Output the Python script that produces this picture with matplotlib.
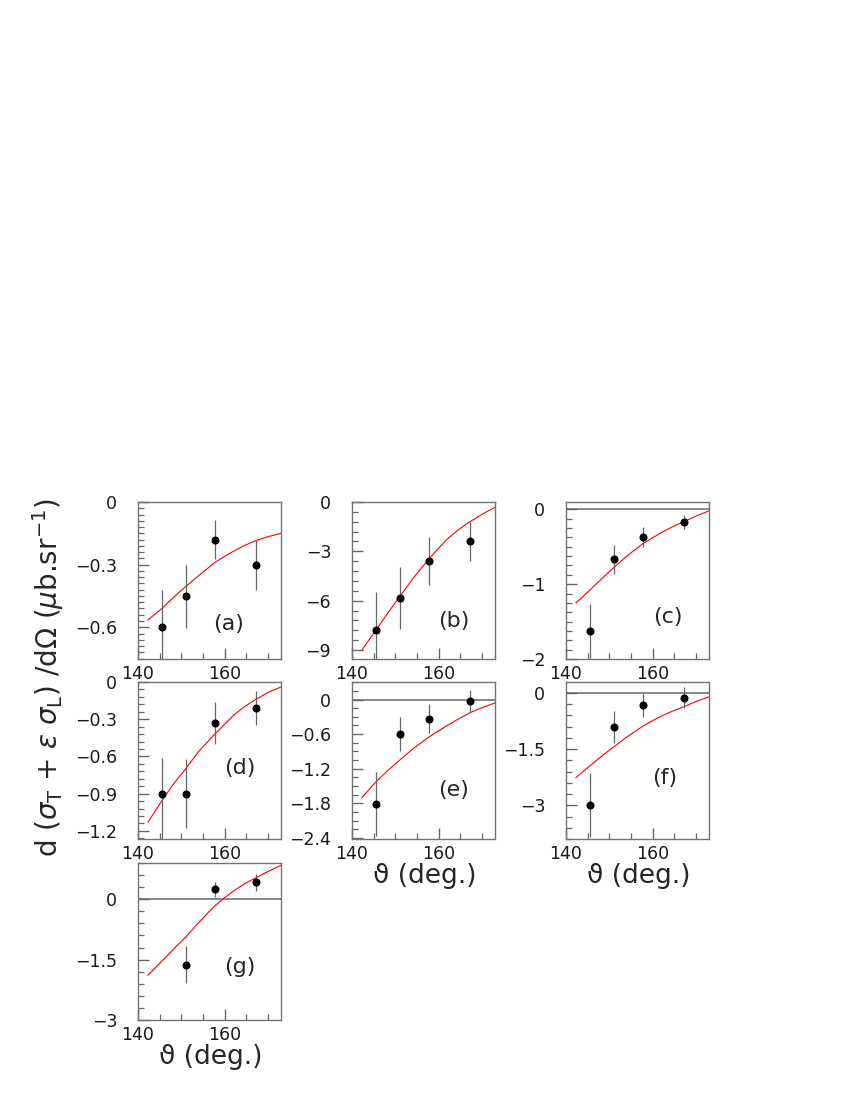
import matplotlib
matplotlib.use('Agg')
import matplotlib.pyplot as plt
from matplotlib.ticker import MultipleLocator, FuncFormatter

# measured points (theta in deg.)
theta = [145.5, 151.0, 157.7, 167.2]

a_y = [-0.60, -0.452, -0.18, -0.30]
a_lo = [0.18, 0.15, 0.095, 0.12]
a_hi = [0.18, 0.15, 0.095, 0.12]

b_y = [-7.79, -5.84, -3.57, -2.39]
b_lo = [2.3, 1.9, 1.45, 1.2]
b_hi = [2.3, 1.9, 1.45, 1.2]

c_y = [-1.62, -0.67, -0.37, -0.173]
c_lo = [0.36, 0.19, 0.13, 0.095]
c_hi = [0.36, 0.19, 0.13, 0.095]

d_y = [-0.90, -0.90, -0.33, -0.209]
d_lo = [0.37, 0.28, 0.17, 0.14]
d_hi = [0.284, 0.28, 0.17, 0.14]

e_y = [-1.81, -0.60, -0.335, -0.023]
e_lo = [0.55, 0.30, 0.25, 0.19]
e_hi = [0.55, 0.30, 0.25, 0.19]

f_y = [-3.0, -0.905, -0.337, -0.124]
f_lo = [0.85, 0.42, 0.30, 0.27]
f_hi = [0.85, 0.42, 0.30, 0.27]

g_theta = [151.0, 157.7, 167.2]
g_y = [-1.63, 0.246, 0.426]
g_lo = [0.46, 0.19, 0.21]
g_hi = [0.46, 0.19, 0.21]

# model curves
curve_theta = [142.3, 145.5, 148.0, 151.0, 154.0, 157.7, 160.0, 162.0, 164.5, 167.2, 170.0, 173.0]
a_fit = [-0.565, -0.51, -0.46, -0.405, -0.353, -0.29, -0.26, -0.236, -0.209, -0.185, -0.166, -0.15]
b_fit = [-9.0, -7.8, -6.85, -5.76, -4.67, -3.47, -2.8, -2.25, -1.7, -1.2, -0.75, -0.32]
c_fit = [-1.25, -1.08, -0.94, -0.78, -0.625, -0.46, -0.38, -0.31, -0.235, -0.165, -0.09, -0.02]
d_fit = [-1.13, -0.957, -0.83, -0.70, -0.56, -0.42, -0.34, -0.27, -0.20, -0.14, -0.085, -0.04]
e_fit = [-1.70, -1.43, -1.25, -1.05, -0.86, -0.65, -0.54, -0.45, -0.34, -0.23, -0.14, -0.06]
f_fit = [-2.26, -1.95, -1.71, -1.44, -1.18, -0.89, -0.74, -0.62, -0.49, -0.37, -0.23, -0.106]
g_fit = [-1.885, -1.54, -1.26, -0.94, -0.58, -0.164, 0.04, 0.20, 0.38, 0.53, 0.69, 0.84]

panels = [
    # name, x, y, lo, hi, fit, ylim, major, minor, zero line, pixel box (left, top), label pos, xlabel
    ('(a)', theta, a_y, a_lo, a_hi, a_fit, (-0.752, 0.0), 0.3, 0.03, False, (138, 502), (0.63, 0.22), False),
    ('(b)', theta, b_y, b_lo, b_hi, b_fit, (-9.55, 0.0), 3, 0.6, False, (352, 502), (0.71, 0.24), False),
    ('(c)', theta, c_y, c_lo, c_hi, c_fit, (-2.0, 0.098), 1, 0.125, True, (566, 502), (0.71, 0.27), False),
    ('(d)', theta, d_y, d_lo, d_hi, d_fit, (-1.265, 0.0), 0.3, 0.06, False, (138, 682), (0.71, 0.45), False),
    ('(e)', theta, e_y, e_lo, e_hi, e_fit, (-2.42, 0.305), 0.6, 0.15, True, (352, 682), (0.71, 0.31), True),
    ('(f)', theta, f_y, f_lo, f_hi, f_fit, (-3.9, 0.29), 1.5, 0.3, True, (566, 682), (0.69, 0.39), True),
    ('(g)', g_theta, g_y, g_lo, g_hi, g_fit, (-3.0, 0.9), 1.5, 0.3, True, (138, 863), (0.71, 0.34), True),
]

W, H = 850, 1100
aw, ah = 143, 157

plt.rcParams['font.family'] = 'DejaVu Sans'

fig = plt.figure(figsize=(8.5, 11), dpi=100)


def fmt(v, pos):
    s = '%g' % round(v, 3)
    if s == '-0':
        s = '0'
    return s.replace('-', '\u2212')


for name, xs, ys, lo, hi, fit, ylim, major, minor, zero, box, lpos, xlab in panels:
    left, top = box
    ax = fig.add_axes([left / W, 1 - (top + ah) / H, aw / W, ah / H])
    if zero:
        ax.axhline(0, color='0.45', lw=1.2, zorder=1)
    ax.plot(curve_theta, fit, color='red', lw=0.8, zorder=2)
    ax.errorbar(xs, ys, yerr=[lo, hi], fmt='o', color='black', ms=4.8,
                ecolor='0.4', elinewidth=0.9, capsize=0, zorder=3)
    ax.set_xlim(140, 173)
    ax.set_ylim(*ylim)
    ax.xaxis.set_major_locator(MultipleLocator(20))
    ax.xaxis.set_minor_locator(MultipleLocator(5))
    ax.yaxis.set_major_locator(MultipleLocator(major))
    ax.yaxis.set_minor_locator(MultipleLocator(minor))
    ax.yaxis.set_major_formatter(FuncFormatter(fmt))
    ax.tick_params(which='both', direction='in', top=False, right=False,
                   color='0.4', labelsize=12.5, labelcolor='0.1')
    ax.tick_params(which='major', length=8, width=1)
    ax.tick_params(which='minor', length=4.5, width=0.9)
    ax.tick_params(axis='y', pad=15)
    ax.tick_params(axis='x', pad=4)
    for sp in ax.spines.values():
        sp.set_color('0.45')
        sp.set_linewidth(1)
    ax.text(lpos[0], lpos[1], name, transform=ax.transAxes, fontsize=16,
            ha='center', va='center', color='0.15')
    if xlab:
        ax.text(0.51, -0.235, '\u03d1 (deg.)', transform=ax.transAxes,
                fontsize=19, ha='center', va='center', color='0.15')

fig.text(48 / W, 1 - 678 / H,
         r'd ($\sigma_{\mathrm{T}}$ + $\varepsilon$ $\sigma_{\mathrm{L}}$) /d$\Omega$ ($\mu$b.sr$^{-1}$)',
         rotation=90, fontsize=20, ha='center', va='center', color='0.15')

fig.savefig('out.png', dpi=100)
